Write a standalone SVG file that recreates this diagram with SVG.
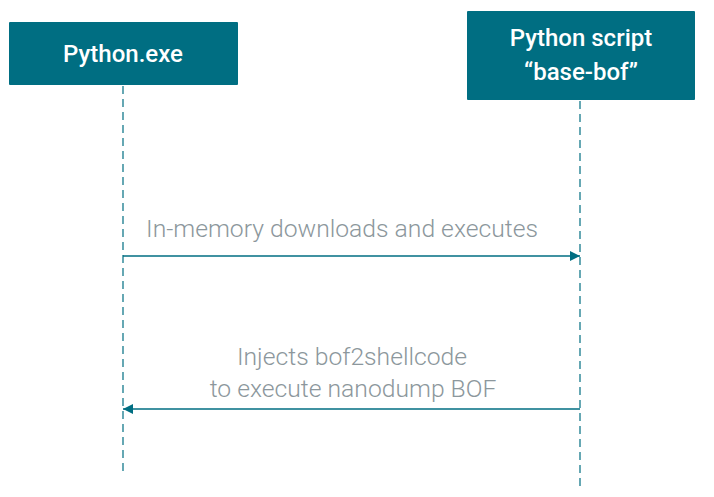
<svg xmlns="http://www.w3.org/2000/svg" width="714" height="497" viewBox="0 0 714 497">
<defs>
<style>
.box{fill:#006e82;}
.title{font-family:Roboto,"Open Sans",sans-serif;font-weight:500;font-size:24px;fill:#ffffff;text-anchor:middle;}
.life{stroke:#006e82;stroke-width:1.2;stroke-dasharray:8,5;fill:none;}
.msg{stroke:#006e82;stroke-width:1.3;fill:none;}
.lbl{font-family:Roboto,"Open Sans",sans-serif;font-weight:300;font-size:24.7px;fill:#8c979c;text-anchor:middle;}
</style>
<marker id="ah" viewBox="0 0 10 10" refX="10" refY="5" markerWidth="10" markerHeight="10" markerUnits="userSpaceOnUse" orient="auto">
<path d="M0,0 L10,5 L0,10 z" fill="#006e82"/>
</marker>
</defs>
<rect width="714" height="497" fill="#ffffff"/>
<g id="connectors">
<line class="life" x1="123" y1="86" x2="123" y2="474"/>
<line class="life" x1="580" y1="101" x2="580" y2="489"/>
<line class="msg" x1="123" y1="256" x2="580" y2="256" marker-end="url(#ah)"/>
<line class="msg" x1="580" y1="409" x2="123" y2="409" marker-end="url(#ah)"/>
<text class="lbl" x="342" y="237">In-memory downloads and executes</text>
<text class="lbl" x="352" y="365">Injects bof2shellcode</text>
<text class="lbl" x="353" y="397">to execute nanodump BOF</text>
</g>
<g id="python-exe">
<rect class="box" x="9" y="22" width="229" height="63" rx="1"/>
<text class="title" x="123" y="62">Python.exe</text>
</g>
<g id="python-script">
<rect class="box" x="467" y="11" width="228" height="89" rx="1"/>
<text class="title" x="581" y="46">Python script</text>
<text class="title" x="581" y="80">“base-bof”</text>
</g>
</svg>
